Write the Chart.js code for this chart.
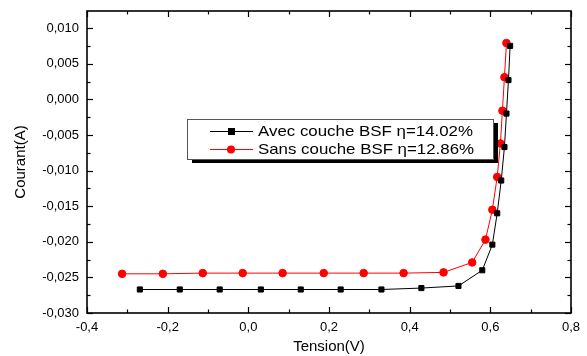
<!DOCTYPE html>
<html>
<head>
<meta charset="utf-8">
<script src="https://cdn.jsdelivr.net/npm/chart.js@4"></script>
<style>
  html, body { margin: 0; padding: 0; background: #fff; }
  #wrap { width: 587px; height: 356px; }
</style>
</head>
<body>
<div id="wrap"><canvas id="chartIV" width="587" height="356"></canvas></div>
<script>
// valeurs
const tensionAvec = [-0.269, -0.170, -0.071, 0.031, 0.130, 0.229, 0.330, 0.429, 0.521, 0.580, 0.605, 0.617, 0.627, 0.635, 0.640, 0.645, 0.649];
const courantAvec = [-0.0267, -0.0267, -0.0267, -0.0267, -0.0267, -0.0267, -0.0267, -0.0265, -0.0262, -0.0240, -0.0204, -0.0160, -0.0114, -0.0067, -0.0020, 0.0027, 0.0075];
const tensionSans = [-0.313, -0.212, -0.113, -0.014, 0.085, 0.187, 0.286, 0.385, 0.484, 0.555, 0.588, 0.605, 0.617, 0.625, 0.630, 0.635, 0.640];
const courantSans = [-0.0245, -0.0245, -0.0244, -0.0244, -0.0244, -0.0244, -0.0244, -0.0244, -0.0243, -0.0229, -0.0197, -0.0155, -0.0109, -0.0062, -0.0016, 0.0031, 0.0079];
const labelAvec = 'Avec couche BSF \u03b7=14.02%';
const labelSans = 'Sans couche BSF \u03b7=12.86%';
const xTicks = [-0.4, -0.2, 0.0, 0.2, 0.4, 0.6, 0.8];
const yTicks = [-0.030, -0.025, -0.020, -0.015, -0.010, -0.005, 0.000, 0.005, 0.010];

const FONT = '"Liberation Sans", Arial, sans-serif';

const toPoints = (xs, ys) => xs.map((x, i) => ({ x, y: ys[i] }));
const virgule = (v, d) => v.toFixed(d).replace('.', ',');

// cadre + graduations vers l'interieur
const frameTicks = {
  id: 'frameTicks',
  afterDraw(chart){
    const { ctx, chartArea: a, scales } = chart;
    const sx = scales.x, sy = scales.y;
    ctx.save();
    ctx.strokeStyle = '#000';
    ctx.lineWidth = 1.6;
    ctx.strokeRect(a.left, a.top, a.right - a.left, a.bottom - a.top);
    ctx.lineWidth = 1.2;
    const tick = (x1, y1, x2, y2) => { ctx.beginPath(); ctx.moveTo(x1, y1); ctx.lineTo(x2, y2); ctx.stroke(); };
    const xs = [];
    xTicks.forEach((v, i) => {
      xs.push([v, 6]);
      if (i < xTicks.length - 1) xs.push([(v + xTicks[i + 1]) / 2, 3.5]);
    });
    xs.forEach(([v, len]) => {
      const px = Math.round(sx.getPixelForValue(v)) + 0.5;
      tick(px, a.bottom, px, a.bottom - len);
      tick(px, a.top, px, a.top + len);
    });
    const ys = [];
    yTicks.forEach((v, i) => {
      ys.push([v, 6]);
      if (i < yTicks.length - 1) ys.push([(v + yTicks[i + 1]) / 2, 3.5]);
    });
    ys.push([0.0125, 3.5]);
    ys.forEach(([v, len]) => {
      const py = Math.round(sy.getPixelForValue(v)) + 0.5;
      if (py < a.top) return;
      tick(a.left, py, a.left + len, py);
      tick(a.right, py, a.right - len, py);
    });
    ctx.restore();
  }
};

// legende encadree avec ombre
const boxLegend = {
  id: 'boxLegend',
  afterDraw(chart){
    const ctx = chart.ctx;
    const bx = 187, by = 119, bw = 306, bh = 40;
    ctx.save();
    ctx.fillStyle = '#000';
    ctx.fillRect(bx + 5, by + 4, bw, bh);
    ctx.fillStyle = '#fff';
    ctx.fillRect(bx, by, bw, bh);
    ctx.strokeStyle = '#555';
    ctx.lineWidth = 1;
    ctx.strokeRect(bx + 0.5, by + 0.5, bw, bh);
    const rows = [
      { y: 131, color: '#000', label: labelAvec, square: true },
      { y: 149, color: '#ff0000', label: labelSans, square: false }
    ];
    rows.forEach(r => {
      ctx.strokeStyle = r.color;
      ctx.lineWidth = 1;
      ctx.beginPath(); ctx.moveTo(210, r.y + 0.5); ctx.lineTo(253, r.y + 0.5); ctx.stroke();
      ctx.fillStyle = r.color;
      if (r.square) ctx.fillRect(228, r.y - 3, 7, 7);
      else { ctx.beginPath(); ctx.arc(231, r.y + 0.5, 4, 0, Math.PI * 2); ctx.fill(); }
      ctx.fillStyle = '#000';
      ctx.font = '15px ' + FONT;
      ctx.textBaseline = 'middle';
      ctx.textAlign = 'left';
      // texte un peu etire comme sur l'original
      const w = ctx.measureText(r.label).width;
      const k = r.square ? 215 / w : 216 / w;
      ctx.save();
      ctx.translate(258, r.y + 1);
      ctx.scale(k, 1);
      ctx.fillText(r.label, 0, 0);
      ctx.restore();
    });
    ctx.restore();
  }
};

new Chart(document.getElementById('chartIV'), {
  type: 'scatter',
  data: {
    datasets: [
      {
        label: labelAvec,
        data: toPoints(tensionAvec, courantAvec),
        showLine: true,
        borderColor: '#000',
        backgroundColor: '#000',
        borderWidth: 1,
        pointStyle: 'rect',
        pointRadius: 3.6,
        pointHoverRadius: 3.6,
        tension: 0
      },
      {
        label: labelSans,
        data: toPoints(tensionSans, courantSans),
        showLine: true,
        borderColor: '#ff0000',
        backgroundColor: '#ff0000',
        borderWidth: 1,
        pointStyle: 'circle',
        pointRadius: 3.8,
        pointHoverRadius: 3.8,
        tension: 0
      }
    ]
  },
  options: {
    responsive: false,
    animation: false,
    events: [],
    layout: { padding: { top: 11, right: 16, left: 0, bottom: 0 } },
    plugins: { legend: { display: false }, tooltip: { enabled: false } },
    scales: {
      x: {
        type: 'linear',
        min: -0.4,
        max: 0.8,
        grid: { display: false, drawTicks: false },
        border: { display: false },
        afterBuildTicks: s => { s.ticks = xTicks.map(v => ({ value: v })); },
        afterFit: s => { s.height = 43; s.paddingLeft = 0; s.paddingRight = 0; },
        ticks: {
          color: '#000',
          padding: 7,
          maxRotation: 0,
          font: { family: FONT, size: 13 },
          callback: v => virgule(v, 1)
        },
        title: {
          display: true,
          text: 'Tension(V)',
          color: '#000',
          padding: { top: 0, bottom: 0 },
          font: { family: FONT, size: 15 }
        }
      },
      y: {
        type: 'linear',
        min: -0.030,
        max: 0.0124,
        grid: { display: false, drawTicks: false },
        border: { display: false },
        afterBuildTicks: s => { s.ticks = yTicks.map(v => ({ value: v })); },
        afterFit: s => { s.width = 87; s.paddingTop = 0; s.paddingBottom = 0; },
        ticks: {
          color: '#000',
          padding: 8,
          font: { family: FONT, size: 13 },
          callback: v => virgule(v, 3)
        },
        title: {
          display: true,
          text: 'Courant(A)',
          color: '#000',
          padding: { top: 12, bottom: 0 },
          font: { family: FONT, size: 15 }
        }
      }
    }
  },
  plugins: [frameTicks, boxLegend]
});
</script>
</body>
</html>
